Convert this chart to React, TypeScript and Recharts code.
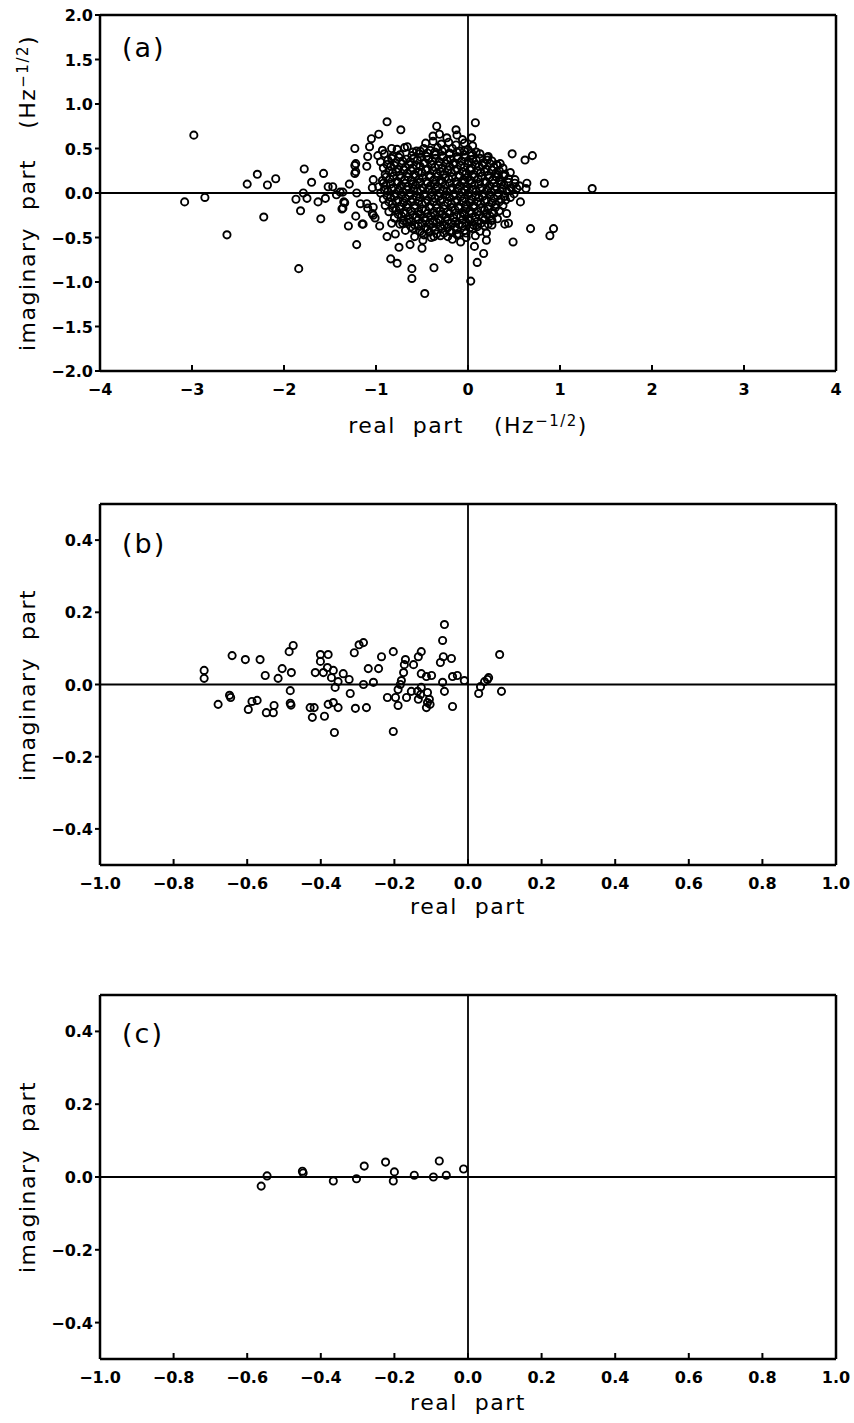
import type { ReactNode } from 'react';
import { ReferenceLine, Scatter, ScatterChart, XAxis, YAxis } from 'recharts';

type Pt = [number, number];

// panel (a): isolated points read around the cloud
const panelAOuter: Pt[] = [
  [-2.98, 0.65], [-3.08, -0.1], [-2.86, -0.05], [-2.62, -0.47], [-2.4, 0.1], [-2.29, 0.21], [-2.18, 0.09],
  [-2.09, 0.16], [-2.22, -0.27], [-1.84, -0.85], [-1.78, 0.27], [-1.82, -0.2], [-1.87, -0.07], [-1.79, 0.0],
  [-1.7, 0.12], [-1.75, -0.06], [-1.63, -0.1], [-1.57, 0.22], [-1.6, -0.29], [-1.52, 0.07], [-1.47, 0.07],
  [-1.55, -0.06], [-1.43, -0.02], [-1.39, 0.01], [-1.37, -0.18], [-1.34, -0.11], [-1.29, 0.1], [-1.3, -0.37],
  [-1.22, -0.26], [-1.21, 0.0], [-1.23, 0.22], [-1.23, 0.31], [-1.23, 0.5], [-1.21, -0.58], [-1.15, -0.35],
  [-1.17, -0.12], [-1.1, -0.12], [-1.09, -0.17], [-1.04, -0.23], [-1.01, -0.28], [-0.96, -0.37], [-0.88, -0.49],
  [-0.84, -0.74], [-0.77, -0.79], [-0.75, -0.61], [-0.79, -0.46], [-0.61, -0.85], [-0.61, -0.96], [-0.47, -1.13],
  [-0.63, -0.58], [-0.5, -0.62], [-0.49, -0.53], [-1.09, 0.41], [-1.07, 0.52], [-1.05, 0.61], [-0.97, 0.66],
  [-0.88, 0.8], [-0.73, 0.71], [-1.1, 0.3], [-1.03, 0.15], [-1.04, 0.06], [-0.83, 0.5], [-0.66, 0.52],
  [-1.22, 0.33], [-1.22, 0.24], [-1.36, 0.01], [-1.35, -0.1], [-1.36, -0.17], [-1.03, -0.16], [-1.03, -0.25],
  [-0.83, -0.34], [-0.71, -0.34], [-1.14, -0.35],
  [0.08, 0.79], [-0.34, 0.75], [-0.13, 0.71], [0.04, 0.62], [0.48, 0.44], [0.62, 0.37], [0.7, 0.42],
  [0.83, 0.11], [1.35, 0.05], [0.35, 0.33], [0.21, 0.4], [0.64, 0.11], [0.63, 0.05], [0.51, 0.15],
  [0.53, 0.05], [0.57, -0.1], [0.41, -0.08], [0.42, -0.23], [0.4, -0.35], [0.44, -0.34], [0.26, -0.36],
  [0.68, -0.4], [0.93, -0.4], [0.89, -0.48], [0.49, -0.55], [0.2, -0.45], [0.2, -0.53], [0.17, -0.68],
  [0.1, -0.78], [0.03, -0.99], [0.07, -0.6], [-0.08, -0.55], [-0.17, -0.52], [-0.21, -0.74], [-0.37, -0.84],
  [-0.37, -0.49], [0.31, 0.32], [0.33, 0.2],
];

// panel (a): the dense cloud near the origin
const panelACore: Pt[] = [
  [-0.38, 0.64], [-0.31, 0.66], [-0.23, 0.62], [-0.12, 0.65], [-0.06, 0.6],
  [-0.46, 0.56], [-0.38, 0.58], [-0.29, 0.55], [-0.21, 0.57], [-0.13, 0.54], [-0.04, 0.56], [0.05, 0.53],
  [-0.93, 0.48], [-0.77, 0.49], [-0.69, 0.51], [-0.56, 0.47], [-0.48, 0.5], [-0.41, 0.48], [-0.33, 0.51],
  [-0.25, 0.49], [-0.17, 0.5], [-0.09, 0.47], [0.0, 0.49], [0.09, 0.46],
  [-0.98, 0.42], [-0.91, 0.44], [-0.82, 0.41], [-0.74, 0.43], [-0.61, 0.42], [-0.53, 0.44], [-0.45, 0.41],
  [-0.36, 0.43], [-0.28, 0.42], [-0.2, 0.44], [-0.12, 0.41], [-0.04, 0.43], [0.04, 0.42], [0.13, 0.44], [0.22, 0.41],
  [-0.95, 0.35], [-0.87, 0.37], [-0.79, 0.34], [-0.71, 0.36], [-0.63, 0.35], [-0.55, 0.37], [-0.47, 0.34],
  [-0.39, 0.36], [-0.31, 0.35], [-0.23, 0.37], [-0.15, 0.34], [-0.07, 0.36], [0.01, 0.35], [0.09, 0.37],
  [0.17, 0.34], [0.26, 0.36],
  [-0.92, 0.28], [-0.84, 0.3], [-0.76, 0.27], [-0.68, 0.29], [-0.6, 0.28], [-0.52, 0.3], [-0.44, 0.27],
  [-0.36, 0.29], [-0.28, 0.28], [-0.2, 0.3], [-0.12, 0.27], [-0.04, 0.29], [0.04, 0.28], [0.12, 0.3],
  [0.2, 0.27], [0.28, 0.29], [0.38, 0.28],
  [-0.9, 0.21], [-0.82, 0.23], [-0.74, 0.2], [-0.66, 0.22], [-0.58, 0.21], [-0.5, 0.23], [-0.42, 0.2],
  [-0.34, 0.22], [-0.26, 0.21], [-0.18, 0.23], [-0.1, 0.2], [-0.02, 0.22], [0.06, 0.21], [0.14, 0.23],
  [0.22, 0.2], [0.3, 0.22], [0.4, 0.21], [0.46, 0.23],
  [-0.93, 0.14], [-0.85, 0.16], [-0.77, 0.13], [-0.69, 0.15], [-0.61, 0.14], [-0.53, 0.16], [-0.45, 0.13],
  [-0.37, 0.15], [-0.29, 0.14], [-0.21, 0.16], [-0.13, 0.13], [-0.05, 0.15], [0.03, 0.14], [0.11, 0.16],
  [0.19, 0.13], [0.27, 0.15], [0.35, 0.14], [0.44, 0.16],
  [-0.97, 0.07], [-0.89, 0.09], [-0.81, 0.06], [-0.73, 0.08], [-0.65, 0.07], [-0.57, 0.09], [-0.49, 0.06],
  [-0.41, 0.08], [-0.33, 0.07], [-0.25, 0.09], [-0.17, 0.06], [-0.09, 0.08], [-0.01, 0.07], [0.07, 0.09],
  [0.15, 0.06], [0.23, 0.08], [0.31, 0.07], [0.39, 0.09], [0.47, 0.06], [0.56, 0.08],
  [-0.95, 0.0], [-0.87, 0.02], [-0.79, -0.01], [-0.71, 0.01], [-0.63, 0.0], [-0.55, 0.02], [-0.47, -0.01],
  [-0.39, 0.01], [-0.31, 0.0], [-0.23, 0.02], [-0.15, -0.01], [-0.07, 0.01], [0.01, 0.0], [0.09, 0.02],
  [0.17, -0.01], [0.25, 0.01], [0.33, 0.0], [0.42, 0.02], [0.5, -0.01],
  [-0.92, -0.07], [-0.84, -0.05], [-0.76, -0.08], [-0.68, -0.06], [-0.6, -0.07], [-0.52, -0.05], [-0.44, -0.08],
  [-0.36, -0.06], [-0.28, -0.07], [-0.2, -0.05], [-0.12, -0.08], [-0.04, -0.06], [0.04, -0.07], [0.12, -0.05],
  [0.2, -0.08], [0.28, -0.06], [0.36, -0.07], [0.46, -0.05],
  [-0.9, -0.14], [-0.82, -0.12], [-0.74, -0.15], [-0.66, -0.13], [-0.58, -0.14], [-0.5, -0.12], [-0.42, -0.15],
  [-0.34, -0.13], [-0.26, -0.14], [-0.18, -0.12], [-0.1, -0.15], [-0.02, -0.13], [0.06, -0.14], [0.14, -0.12],
  [0.22, -0.15], [0.3, -0.13], [0.38, -0.14],
  [-0.86, -0.21], [-0.78, -0.19], [-0.7, -0.22], [-0.62, -0.2], [-0.54, -0.21], [-0.46, -0.19], [-0.38, -0.22],
  [-0.3, -0.2], [-0.22, -0.21], [-0.14, -0.19], [-0.06, -0.22], [0.02, -0.2], [0.1, -0.21], [0.18, -0.19],
  [0.26, -0.22], [0.34, -0.2],
  [-0.8, -0.28], [-0.72, -0.26], [-0.64, -0.29], [-0.56, -0.27], [-0.48, -0.28], [-0.4, -0.26], [-0.32, -0.29],
  [-0.24, -0.27], [-0.16, -0.28], [-0.08, -0.26], [0.0, -0.29], [0.08, -0.27], [0.16, -0.28], [0.24, -0.26],
  [0.32, -0.29],
  [-0.74, -0.35], [-0.66, -0.33], [-0.58, -0.36], [-0.5, -0.34], [-0.42, -0.35], [-0.34, -0.33], [-0.26, -0.36],
  [-0.18, -0.34], [-0.1, -0.35], [-0.02, -0.33], [0.06, -0.36], [0.14, -0.34], [0.22, -0.35],
  [-0.68, -0.42], [-0.6, -0.4], [-0.52, -0.43], [-0.44, -0.41], [-0.36, -0.42], [-0.28, -0.4], [-0.2, -0.43],
  [-0.12, -0.41], [-0.04, -0.42], [0.05, -0.4], [0.13, -0.43],
  [-0.58, -0.49], [-0.48, -0.47], [-0.4, -0.5], [-0.3, -0.48], [-0.22, -0.49], [-0.12, -0.47], [-0.02, -0.5],
  [0.08, -0.48],
];

// panel (a): more points packed into the black centre of the cloud
const panelACentre: Pt[] = [
  [-0.6, 0.46], [-0.52, 0.47], [-0.44, 0.45], [-0.36, 0.46], [-0.28, 0.47], [-0.2, 0.45], [-0.12, 0.46],
  [-0.04, 0.47], [0.04, 0.45],
  [-0.83, 0.39], [-0.75, 0.4], [-0.67, 0.38], [-0.59, 0.39], [-0.51, 0.4], [-0.43, 0.38], [-0.35, 0.39],
  [-0.27, 0.4], [-0.19, 0.38], [-0.11, 0.39], [-0.03, 0.4], [0.05, 0.38], [0.13, 0.39], [0.21, 0.37],
  [-0.88, 0.32], [-0.8, 0.31], [-0.72, 0.33], [-0.64, 0.32], [-0.56, 0.31], [-0.48, 0.33], [-0.4, 0.32],
  [-0.32, 0.31], [-0.24, 0.33], [-0.16, 0.32], [-0.08, 0.31], [0.0, 0.33], [0.08, 0.32], [0.16, 0.31],
  [0.24, 0.33], [0.32, 0.31],
  [-0.86, 0.25], [-0.78, 0.24], [-0.7, 0.26], [-0.62, 0.25], [-0.54, 0.24], [-0.46, 0.26], [-0.38, 0.25],
  [-0.3, 0.24], [-0.22, 0.26], [-0.14, 0.25], [-0.06, 0.24], [0.02, 0.26], [0.1, 0.25], [0.18, 0.24],
  [0.26, 0.26], [0.34, 0.25],
  [-0.89, 0.18], [-0.81, 0.19], [-0.73, 0.17], [-0.65, 0.18], [-0.57, 0.19], [-0.49, 0.17], [-0.41, 0.18],
  [-0.33, 0.19], [-0.25, 0.17], [-0.17, 0.18], [-0.09, 0.19], [-0.01, 0.17], [0.07, 0.18], [0.15, 0.19],
  [0.23, 0.17], [0.31, 0.18], [0.39, 0.19],
  [-0.92, 0.11], [-0.84, 0.1], [-0.76, 0.12], [-0.68, 0.11], [-0.6, 0.1], [-0.52, 0.12], [-0.44, 0.11],
  [-0.36, 0.1], [-0.28, 0.12], [-0.2, 0.11], [-0.12, 0.1], [-0.04, 0.12], [0.04, 0.11], [0.12, 0.1],
  [0.2, 0.12], [0.28, 0.11], [0.36, 0.1], [0.44, 0.12], [0.51, 0.11],
  [-0.91, 0.04], [-0.83, 0.05], [-0.75, 0.03], [-0.67, 0.04], [-0.59, 0.05], [-0.51, 0.03], [-0.43, 0.04],
  [-0.35, 0.05], [-0.27, 0.03], [-0.19, 0.04], [-0.11, 0.05], [-0.03, 0.03], [0.05, 0.04], [0.13, 0.05],
  [0.21, 0.03], [0.29, 0.04], [0.37, 0.05], [0.45, 0.03],
  [-0.88, -0.03], [-0.8, -0.04], [-0.72, -0.02], [-0.64, -0.03], [-0.56, -0.04], [-0.48, -0.02], [-0.4, -0.03],
  [-0.32, -0.04], [-0.24, -0.02], [-0.16, -0.03], [-0.08, -0.04], [0.0, -0.02], [0.08, -0.03], [0.16, -0.04],
  [0.24, -0.02], [0.32, -0.03], [0.4, -0.04],
  [-0.86, -0.1], [-0.78, -0.09], [-0.7, -0.11], [-0.62, -0.1], [-0.54, -0.09], [-0.46, -0.11], [-0.38, -0.1],
  [-0.3, -0.09], [-0.22, -0.11], [-0.14, -0.1], [-0.06, -0.09], [0.02, -0.11], [0.1, -0.1], [0.18, -0.09],
  [0.26, -0.11], [0.34, -0.1],
  [-0.82, -0.17], [-0.74, -0.18], [-0.66, -0.16], [-0.58, -0.17], [-0.5, -0.18], [-0.42, -0.16], [-0.34, -0.17],
  [-0.26, -0.18], [-0.18, -0.16], [-0.1, -0.17], [-0.02, -0.18], [0.06, -0.16], [0.14, -0.17], [0.22, -0.18],
  [0.3, -0.16],
  [-0.76, -0.24], [-0.68, -0.23], [-0.6, -0.25], [-0.52, -0.24], [-0.44, -0.23], [-0.36, -0.25], [-0.28, -0.24],
  [-0.2, -0.23], [-0.12, -0.25], [-0.04, -0.24], [0.04, -0.23], [0.12, -0.25], [0.2, -0.24], [0.28, -0.23],
  [-0.7, -0.31], [-0.62, -0.32], [-0.54, -0.3], [-0.46, -0.31], [-0.38, -0.32], [-0.3, -0.3], [-0.22, -0.31],
  [-0.14, -0.32], [-0.06, -0.3], [0.02, -0.31], [0.1, -0.32], [0.18, -0.3], [0.26, -0.31],
  [-0.62, -0.38], [-0.54, -0.37], [-0.46, -0.39], [-0.38, -0.38], [-0.3, -0.37], [-0.22, -0.39], [-0.14, -0.38],
  [-0.06, -0.37], [0.02, -0.39], [0.1, -0.38], [0.18, -0.37],
  [-0.5, -0.45], [-0.42, -0.44], [-0.34, -0.46], [-0.26, -0.45], [-0.18, -0.44], [-0.1, -0.46], [-0.02, -0.45],
];

const panelB: Pt[] = [
  [-0.717, 0.039], [-0.717, 0.017], [-0.679, -0.055], [-0.648, -0.03], [-0.645, -0.036], [-0.641, 0.08],
  [-0.605, 0.069], [-0.597, -0.069], [-0.587, -0.047], [-0.573, -0.044], [-0.565, 0.069], [-0.551, 0.025],
  [-0.548, -0.078], [-0.529, -0.078], [-0.527, -0.058], [-0.516, 0.017], [-0.505, 0.044], [-0.486, 0.091],
  [-0.475, 0.108], [-0.48, 0.033], [-0.483, -0.017], [-0.483, -0.052], [-0.481, -0.057], [-0.429, -0.064],
  [-0.418, -0.064], [-0.423, -0.091], [-0.415, 0.033], [-0.401, 0.083], [-0.38, 0.083], [-0.401, 0.064],
  [-0.393, 0.033], [-0.382, 0.047], [-0.366, 0.039], [-0.371, 0.019], [-0.361, -0.008], [-0.353, 0.008],
  [-0.339, 0.03], [-0.323, 0.014], [-0.39, -0.088], [-0.38, -0.055], [-0.366, -0.05], [-0.353, -0.064],
  [-0.363, -0.133], [-0.32, -0.025], [-0.309, 0.088], [-0.296, 0.11], [-0.284, 0.116], [-0.306, -0.066],
  [-0.284, 0.0], [-0.276, -0.064], [-0.271, 0.044], [-0.257, 0.006], [-0.243, 0.044], [-0.235, 0.077],
  [-0.219, -0.036], [-0.203, 0.091], [-0.203, -0.13], [-0.197, -0.036], [-0.19, -0.058], [-0.19, -0.014],
  [-0.184, 0.0], [-0.181, 0.011], [-0.175, 0.033], [-0.173, 0.055], [-0.17, 0.069], [-0.167, -0.036],
  [-0.154, -0.019], [-0.148, 0.055], [-0.137, -0.019], [-0.135, 0.077], [-0.135, -0.041], [-0.127, 0.091],
  [-0.127, 0.03], [-0.127, -0.008], [-0.129, -0.028], [-0.113, 0.022], [-0.11, -0.022], [-0.105, -0.041],
  [-0.11, -0.05], [-0.113, -0.064], [-0.103, -0.055], [-0.099, 0.025], [-0.075, 0.061], [-0.069, 0.122],
  [-0.067, 0.077], [-0.064, 0.166], [-0.045, 0.072], [-0.069, 0.006], [-0.064, -0.019], [-0.042, 0.022],
  [-0.029, 0.025], [-0.042, -0.061], [-0.01, 0.011], [0.029, -0.025], [0.034, -0.006], [0.045, 0.008],
  [0.053, 0.014], [0.056, 0.019], [0.086, 0.083], [0.091, -0.019],
];

const panelC: Pt[] = [
  [-0.562, -0.025], [-0.546, 0.003], [-0.45, 0.016], [-0.448, 0.011], [-0.366, -0.011], [-0.303, -0.005],
  [-0.282, 0.03], [-0.224, 0.041], [-0.2, 0.014], [-0.203, -0.011], [-0.146, 0.005], [-0.094, 0.0],
  [-0.078, 0.044], [-0.059, 0.005], [-0.012, 0.022],
];

const xTicksA = [-4, -3, -2, -1, 0, 1, 2, 3, 4];
const yTicksA = [-2, -1.5, -1, -0.5, 0, 0.5, 1, 1.5, 2];
const xTicksBC = [-1, -0.8, -0.6, -0.4, -0.2, 0, 0.2, 0.4, 0.6, 0.8, 1];
const yTicksBC = [-0.4, -0.2, 0, 0.2, 0.4];

const W = 854;
const MARGIN = { top: 10, right: 18, left: 0, bottom: 0 };
const X_H = 70;
const FONT = '"DejaVu Sans", sans-serif';

const minus = (s: string) => s.replace('-', '\u2212');
const fmtInt = (v: number) => minus(String(v));
const fmt1 = (v: number) => minus(v.toFixed(1));

const Ring = (p: any) => <circle cx={p.cx} cy={p.cy} r={3.6} fill="none" stroke="#000" strokeWidth={1.9} />;

// tick labels drawn by hand so the font size sticks
const tickText = (fmt: (v: number) => string, anchor: 'middle' | 'end', dy: number) => (p: any) => (
  <text x={p.x} y={p.y} dy={dy} textAnchor={anchor} fontSize={16} fontWeight={700} fontFamily={FONT} fill="#000">
    {fmt(p.payload.value)}
  </text>
);

type PanelProps = {
  top: number;
  plotH: number;
  data: Pt[];
  xDomain: [number, number];
  xTicks: number[];
  xFmt: (v: number) => string;
  yDomain: [number, number];
  yTicks: number[];
  tag: string;
  tagY: number;
  xTitle: ReactNode;
  xTitleY: number;
  yTitle: ReactNode;
};

function Panel({ top, plotH, data, xDomain, xTicks, xFmt, yDomain, yTicks, tag, tagY, xTitle, xTitleY, yTitle }: PanelProps) {
  const h = MARGIN.top + plotH + X_H;
  const pts = data.map(([x, y]) => ({ x, y }));
  const titleStyle = { position: 'absolute' as const, fontFamily: FONT, fontSize: 22, letterSpacing: 1.5, lineHeight: 1, whiteSpace: 'pre' as const, color: '#000' };
  return (
    <div style={{ position: 'absolute', left: 0, top, width: W, height: h }}>
      <ScatterChart width={W} height={h} margin={MARGIN}>
        <XAxis
          type="number" dataKey="x" domain={xDomain} ticks={xTicks} interval={0} allowDataOverflow
          tick={tickText(xFmt, 'middle', 12)} tickSize={-6} tickMargin={18} height={X_H}
          axisLine={{ stroke: '#000', strokeWidth: 2.5 }} tickLine={{ stroke: '#000', strokeWidth: 2 }}
        />
        <YAxis
          type="number" dataKey="y" domain={yDomain} ticks={yTicks} interval={0} allowDataOverflow
          tick={tickText(fmt1, 'end', 6)} tickSize={5} tickMargin={2} width={100}
          axisLine={{ stroke: '#000', strokeWidth: 2.5 }} tickLine={{ stroke: '#000', strokeWidth: 2 }}
        />
        <ReferenceLine y={yDomain[1]} stroke="#000" strokeWidth={2.5} />
        <ReferenceLine x={xDomain[1]} stroke="#000" strokeWidth={2.5} />
        <ReferenceLine y={0} stroke="#000" strokeWidth={1.8} />
        <ReferenceLine x={0} stroke="#000" strokeWidth={1.8} />
        <Scatter data={pts} shape={Ring} isAnimationActive={false} />
      </ScatterChart>
      <div style={{ ...titleStyle, fontSize: 27, letterSpacing: 2, left: 122, top: MARGIN.top + tagY, transform: 'translateY(-50%)' }}>{tag}</div>
      <div style={{ ...titleStyle, left: 468, top: MARGIN.top + plotH + xTitleY, transform: 'translate(-50%, -50%)' }}>{xTitle}</div>
      <div style={{ ...titleStyle, left: 28, top: MARGIN.top + plotH / 2, transform: 'translate(-50%, -50%) rotate(-90deg)' }}>{yTitle}</div>
    </div>
  );
}

const hz = (
  <span style={{ marginLeft: 30 }}>
    (Hz<sup style={{ fontSize: '0.68em', verticalAlign: '0.5em', lineHeight: 0 }}>{'\u22121/2'}</sup>)
  </span>
);

export default function App() {
  return (
    <div style={{ position: 'absolute', left: 0, top: 0, width: W, height: 1423, background: '#fff' }}>
      <Panel
        top={5} plotH={356} data={[...panelAOuter, ...panelACore, ...panelACentre]}
        xDomain={[-4, 4]} xTicks={xTicksA} xFmt={fmtInt} yDomain={[-2, 2]} yTicks={yTicksA}
        tag="(a)" tagY={32} xTitle={<>real  part{hz}</>} xTitleY={55} yTitle={<>imaginary  part{hz}</>}
      />
      <Panel
        top={494} plotH={361} data={panelB}
        xDomain={[-1, 1]} xTicks={xTicksBC} xFmt={fmt1} yDomain={[-0.5, 0.5]} yTicks={yTicksBC}
        tag="(b)" tagY={39} xTitle="real  part" xTitleY={42} yTitle="imaginary  part"
      />
      <Panel
        top={985} plotH={364} data={panelC}
        xDomain={[-1, 1]} xTicks={xTicksBC} xFmt={fmt1} yDomain={[-0.5, 0.5]} yTicks={yTicksBC}
        tag="(c)" tagY={38} xTitle="real  part" xTitleY={44} yTitle="imaginary  part"
      />
    </div>
  );
}
